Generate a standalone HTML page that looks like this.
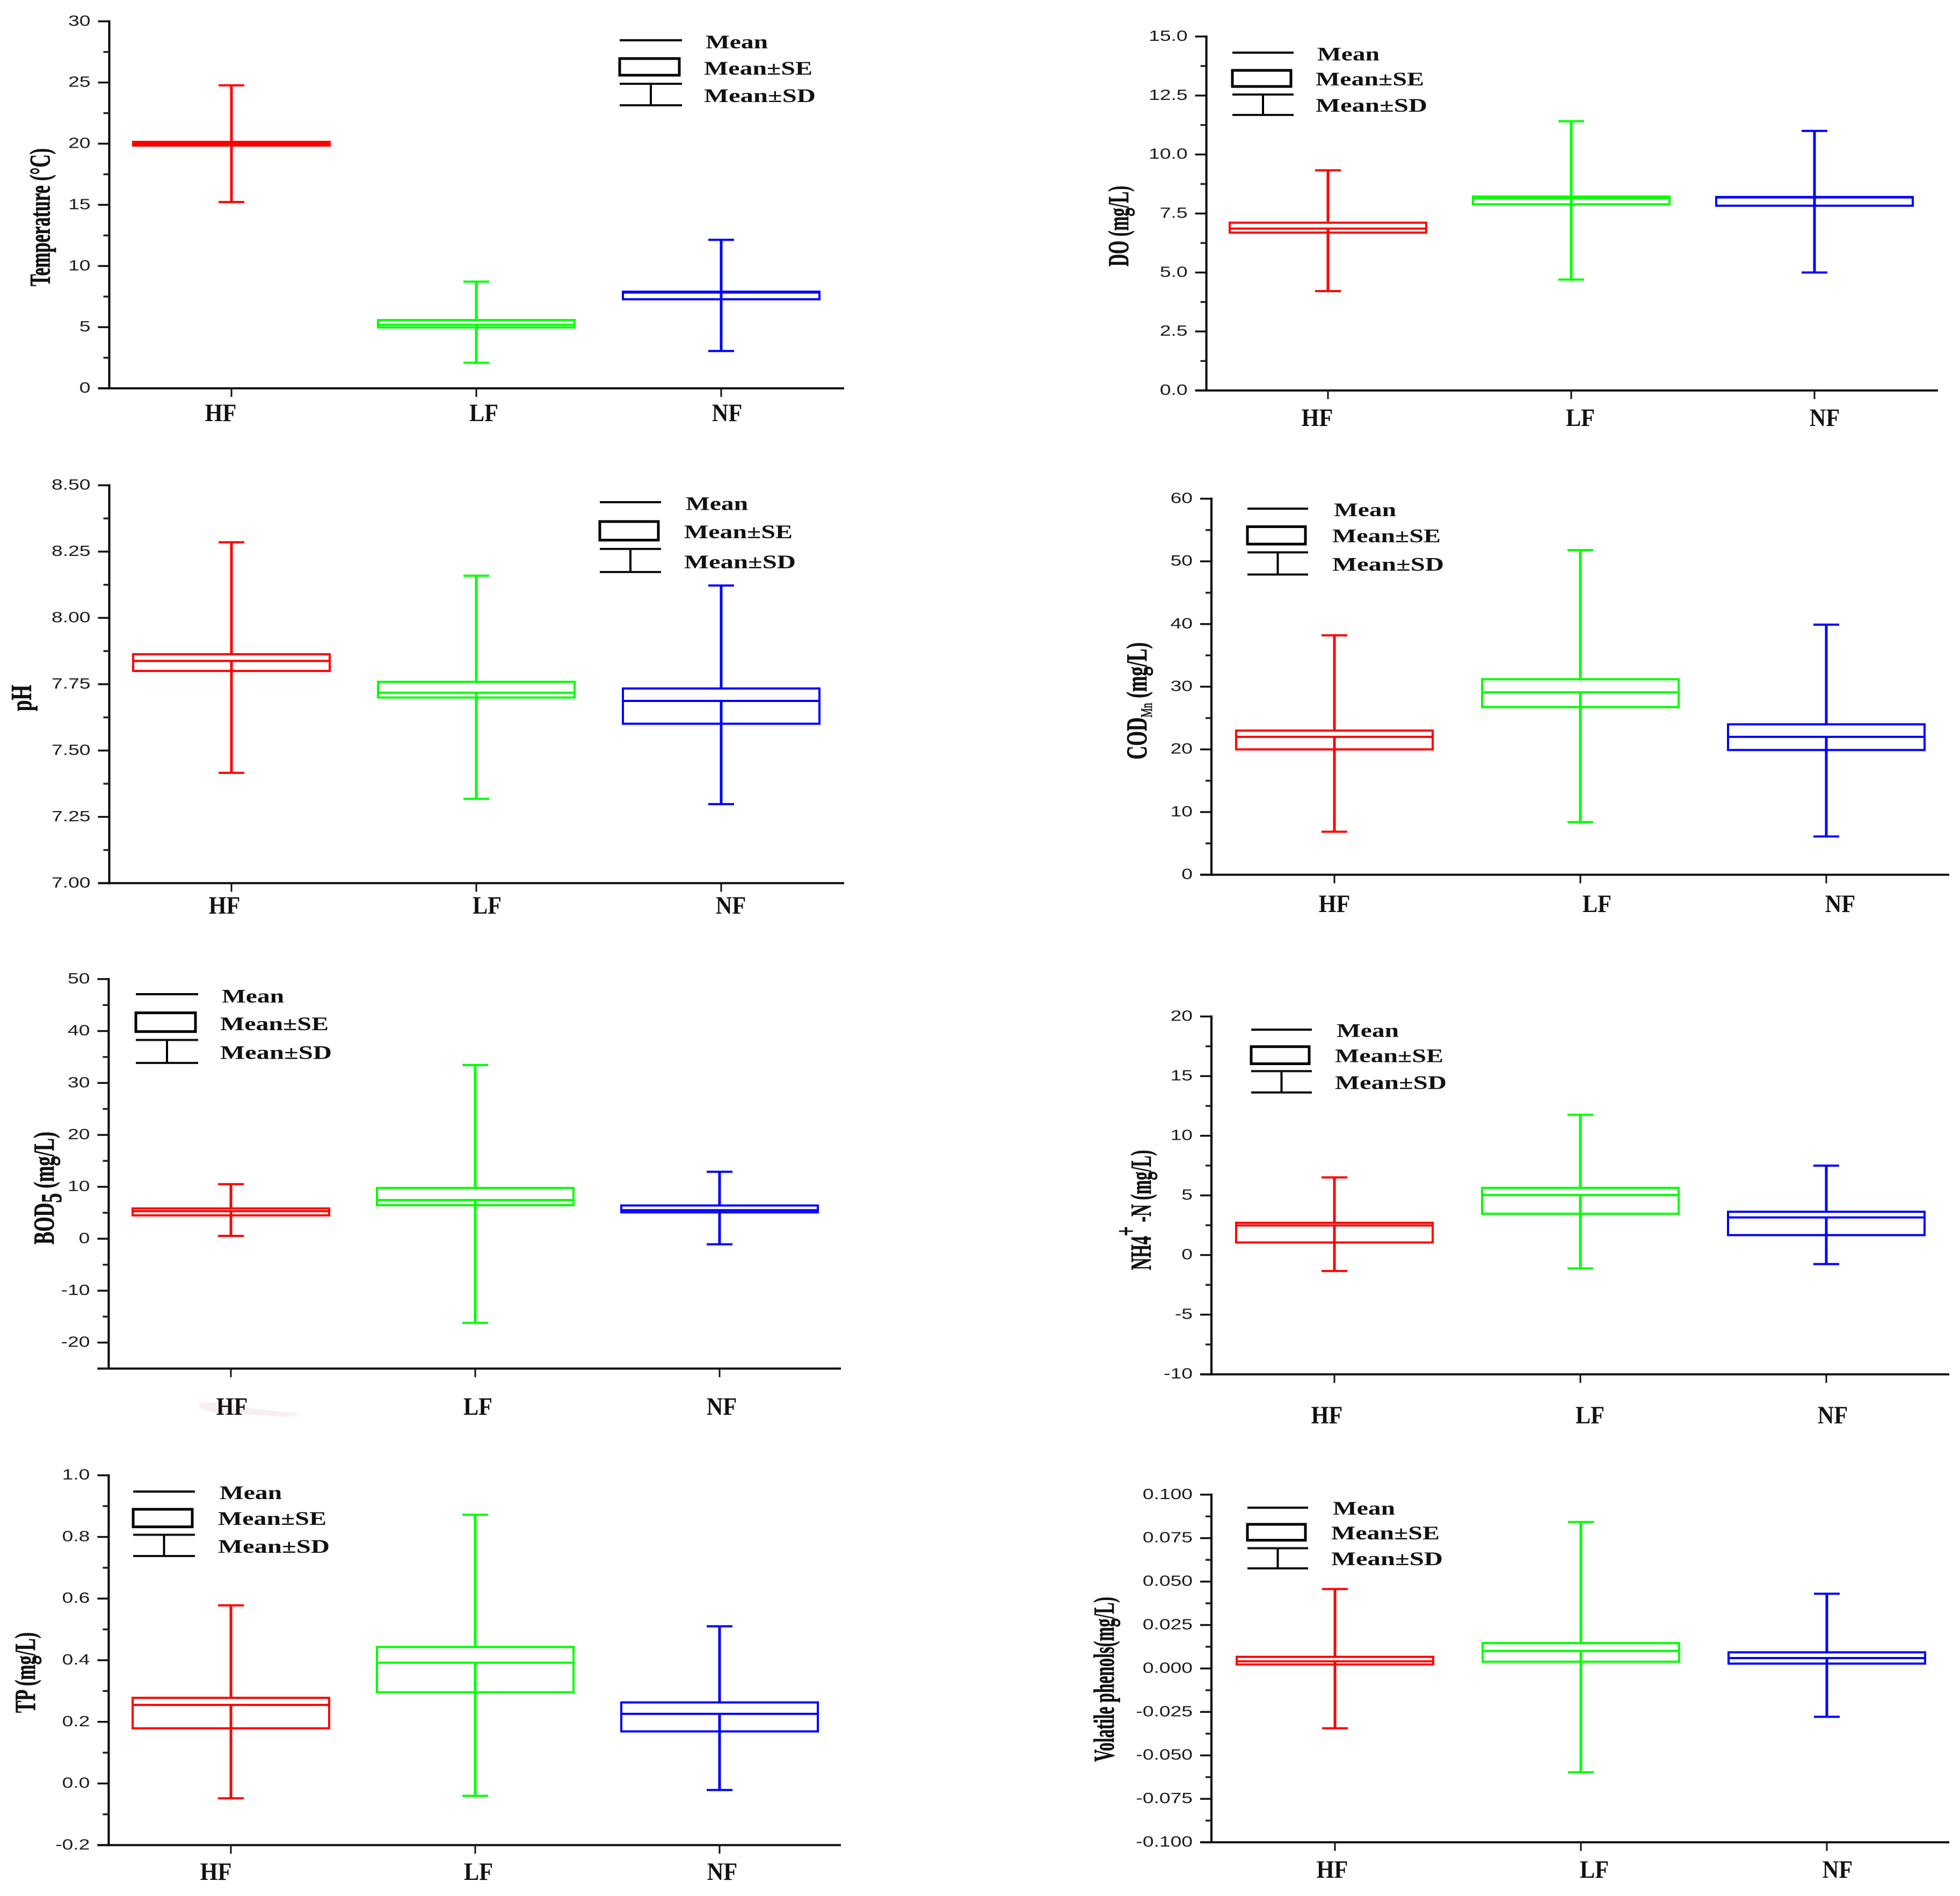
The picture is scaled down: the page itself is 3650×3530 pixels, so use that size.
<!DOCTYPE html>
<html lang="en">
<head>
<meta charset="utf-8">
<title>Water quality box charts</title>
<style>
html,body{margin:0;padding:0;background:#fff;}
body{width:3650px;height:3530px;overflow:hidden;}
svg{display:block;}
.tick-text{font-family:"Liberation Sans",sans-serif;font-size:28px;fill:#1c1c1c;text-anchor:end;}
.cat-text{font-family:"Liberation Serif",serif;font-weight:bold;font-size:47px;fill:#111;text-anchor:middle;}
.legend-text{font-family:"Liberation Serif",serif;font-weight:bold;font-size:36px;fill:#111;}
.title-text{font-family:"Liberation Serif",serif;font-weight:bold;font-size:54px;fill:#111;stroke:#111;stroke-width:0.8px;}
</style>
</head>
<body>
<svg id="figure" xmlns="http://www.w3.org/2000/svg" width="3650" height="3530" viewBox="0 0 3650 3530"></svg>
<script>
// ---------- data ----------
const categories = ['HF', 'LF', 'NF'];
const seriesColors = ['#ff0000', '#00ff00', '#0000ff'];
const legendLabels = ['Mean', 'Mean±SE', 'Mean±SD'];

const temperatureTicks = [0, 5, 10, 15, 20, 25, 30];
const temperatureTickLabels = ['0', '5', '10', '15', '20', '25', '30'];
const temperatureSdHigh = [24.77, 8.72, 12.14];
const temperatureSdLow = [15.23, 2.09, 3.05];
const temperatureSeHigh = [20.15, 5.58, 7.9];
const temperatureSeLow = [19.85, 4.98, 7.28];
const temperatureMean = [20.0, 5.2, 7.83];

const doTicks = [0, 2.5, 5, 7.5, 10, 12.5, 15];
const doTickLabels = ['0.0', '2.5', '5.0', '7.5', '10.0', '12.5', '15.0'];
const doSdHigh = [9.33, 11.41, 11.0];
const doSdLow = [4.21, 4.7, 5.0];
const doSeHigh = [7.11, 8.22, 8.2];
const doSeLow = [6.69, 7.89, 7.83];
const doMean = [6.86, 8.15, 8.18];

const phTicks = [7, 7.25, 7.5, 7.75, 8, 8.25, 8.5];
const phTickLabels = ['7.00', '7.25', '7.50', '7.75', '8.00', '8.25', '8.50'];
const phSdHigh = [8.285, 8.159, 8.122];
const phSdLow = [7.416, 7.318, 7.298];
const phSeHigh = [7.863, 7.759, 7.734];
const phSeLow = [7.8, 7.7, 7.601];
const phMean = [7.838, 7.718, 7.687];

const codTicks = [0, 10, 20, 30, 40, 50, 60];
const codTickLabels = ['0', '10', '20', '30', '40', '50', '60'];
const codSdHigh = [38.2, 51.8, 39.9];
const codSdLow = [6.86, 8.4, 6.1];
const codSeHigh = [23.0, 31.2, 24.0];
const codSeLow = [20.0, 26.75, 19.9];
const codMean = [22.0, 29.1, 22.0];

const bodTicks = [-20, -10, 0, 10, 20, 30, 40, 50];
const bodTickLabels = ['-20', '-10', '0', '10', '20', '30', '40', '50'];
const bodSdHigh = [10.5, 33.45, 12.9];
const bodSdLow = [0.55, -16.2, -1.07];
const bodSeHigh = [5.83, 9.78, 6.4];
const bodSeLow = [4.5, 6.47, 5.08];
const bodMean = [5.3, 7.45, 5.5];

const nh4Ticks = [-10, -5, 0, 5, 10, 15, 20];
const nh4TickLabels = ['-10', '-5', '0', '5', '10', '15', '20'];
const nh4SdHigh = [6.51, 11.76, 7.49];
const nh4SdLow = [-1.34, -1.12, -0.76];
const nh4SeHigh = [2.7, 5.63, 3.63];
const nh4SeLow = [1.05, 3.46, 1.67];
const nh4Mean = [2.48, 5.03, 3.15];

const tpTicks = [-0.2, 0, 0.2, 0.4, 0.6, 0.8, 1.0];
const tpTickLabels = ['-0.2', '0.0', '0.2', '0.4', '0.6', '0.8', '1.0'];
const tpSdHigh = [0.578, 0.872, 0.51];
const tpSdLow = [-0.048, -0.04, -0.021];
const tpSeHigh = [0.278, 0.443, 0.263];
const tpSeLow = [0.179, 0.296, 0.169];
const tpMean = [0.255, 0.392, 0.226];

const phenolTicks = [-0.1, -0.075, -0.05, -0.025, 0, 0.025, 0.05, 0.075, 0.1];
const phenolTickLabels = ['-0.100', '-0.075', '-0.050', '-0.025', '0.000', '0.025', '0.050', '0.075', '0.100'];
const phenolSdHigh = [0.0457, 0.0843, 0.043];
const phenolSdLow = [-0.0344, -0.0597, -0.0278];
const phenolSeHigh = [0.0067, 0.0146, 0.0093];
const phenolSeLow = [0.0023, 0.0039, 0.0028];
const phenolMean = [0.0041, 0.0101, 0.006];

// ---------- panel definitions ----------
const panels = [
  {key:'temperature', ticks:temperatureTicks, labels:temperatureTickLabels, hi:temperatureSdHigh, lo:temperatureSdLow, seHi:temperatureSeHigh, seLo:temperatureSeLow, mean:temperatureMean,
   min:0, max:30, ax:203.5, xEnd:1572, top:39.8, bot:723, c0:431, dx:456,
   catX:[411,901,1354], catY:784,
   title:[['Temperature (°C)']], titleX:92.7, titleBot:533, titleLen:257,
   lg:{x1:1154,x2:1270,lineY:75,boxTop:109,boxBot:140,capTop:156,capBot:196,textX:1311,base:[90,139,190]}},
  {key:'do', ticks:doTicks, labels:doTickLabels, hi:doSdHigh, lo:doSdLow, seHi:doSeHigh, seLo:doSeLow, mean:doMean,
   min:0, max:15, ax:2246.6, xEnd:3609, top:68, bot:727, c0:2473, dx:453,
   catX:[2453,2943,3398], catY:793,
   title:[['DO (mg/L)']], titleX:2101, titleBot:496, titleLen:150,
   lg:{x1:2295,x2:2409,lineY:98,boxTop:131,boxBot:161,capTop:176,capBot:214,textX:2450,base:[112.4,159,208]}},
  {key:'ph', ticks:phTicks, labels:phTickLabels, hi:phSdHigh, lo:phSdLow, seHi:phSeHigh, seLo:phSeLow, mean:phMean,
   min:7, max:8.5, ax:203.5, xEnd:1572, top:903.5, bot:1644.3, c0:431, dx:456,
   catX:[418,907,1361], catY:1701,
   title:[['pH']], titleX:58, titleBot:1324, titleLen:49,
   lg:{x1:1117,x2:1231,lineY:935,boxTop:971,boxBot:1005.6,capTop:1022,capBot:1065,textX:1274,base:[949.6,1002,1058]}},
  {key:'cod', ticks:codTicks, labels:codTickLabels, hi:codSdHigh, lo:codSdLow, seHi:codSeHigh, seLo:codSeLow, mean:codMean,
   min:0, max:60, ax:2256, xEnd:3630, top:928.5, bot:1628.6, c0:2485, dx:458,
   catX:[2485,2974,3427], catY:1698,
   title:[['COD'],['Mn',30,10,'normal'],[' (mg/L)',54,-10]], titleX:2135, titleBot:1414, titleLen:218,
   lg:{x1:2323,x2:2436,lineY:947,boxTop:980.6,boxBot:1013,capTop:1028.4,capBot:1069.6,textX:2481,base:[960.8,1009.7,1062.4]}},
  {key:'bod', ticks:bodTicks, labels:bodTickLabels, hi:bodSdHigh, lo:bodSdLow, seHi:bodSeHigh, seLo:bodSeLow, mean:bodMean,
   min:-25, max:50, ax:202.4, xEnd:1566, top:1822.9, bot:2548, c0:430, dx:455,
   catX:[432,890,1344], catY:2634,
   title:[['BOD'],['5',54,14],[' (mg/L)',54,-14]], titleX:100, titleBot:2317, titleLen:210,
   lg:{x1:253,x2:369,lineY:1851,boxTop:1885.7,boxBot:1920.6,capTop:1936.3,capBot:1979,textX:410,base:[1866.6,1917.8,1971.7]}},
  {key:'nh4', ticks:nh4Ticks, labels:nh4TickLabels, hi:nh4SdHigh, lo:nh4SdLow, seHi:nh4SeHigh, seLo:nh4SeLow, mean:nh4Mean,
   min:-10, max:20, ax:2256, xEnd:3630, top:1892.5, bot:2558.7, c0:2485, dx:458,
   catX:[2471,2961,3413], catY:2650,
   title:[['NH4'],['+',54,-28],[' -N (mg/L)',54,28]], titleX:2143, titleBot:2364.5, titleLen:223.5,
   lg:{x1:2330,x2:2443,lineY:1917,boxTop:1948.7,boxBot:1980.5,capTop:1994.3,capBot:2034,textX:2486,base:[1930.6,1977.3,2027.7]}},
  {key:'tp', ticks:tpTicks, labels:tpTickLabels, hi:tpSdHigh, lo:tpSdLow, seHi:tpSeHigh, seLo:tpSeLow, mean:tpMean,
   min:-0.2, max:1.0, ax:202.4, xEnd:1566, top:2746.7, bot:3435.3, c0:430, dx:455,
   catX:[402,891,1345], catY:3500,
   title:[['TP (mg/L)']], titleX:65, titleBot:3189, titleLen:150,
   lg:{x1:248,x2:363,lineY:2777,boxTop:2810,boxBot:2842.7,capTop:2857.5,capBot:2897,textX:406,base:[2791,2839,2891]}},
  {key:'phenol', ticks:phenolTicks, labels:phenolTickLabels, hi:phenolSdHigh, lo:phenolSdLow, seHi:phenolSeHigh, seLo:phenolSeLow, mean:phenolMean,
   min:-0.1, max:0.1, ax:2256, xEnd:3630, top:2782.8, bot:3430, c0:2486, dx:458,
   catX:[2481,2969,3422], catY:3496,
   title:[['Volatile phenols(mg/L)']], titleX:2074, titleBot:3280, titleLen:307,
   lg:{x1:2323,x2:2436,lineY:2807,boxTop:2838,boxBot:2867.6,capTop:2882.5,capBot:2920,textX:2479,base:[2820,2866,2914]}}
];

// ---------- drawing ----------
const NS = 'http://www.w3.org/2000/svg';
const figure = document.getElementById('figure');
const BOX_HALF = 183;
const CAP_HALF = 24;

function make(parent, tag, attrs) {
  const el = document.createElementNS(NS, tag);
  for (const k in attrs) el.setAttribute(k, attrs[k]);
  parent.appendChild(el);
  return el;
}
function seg(parent, x1, y1, x2, y2, color, w) {
  return make(parent, 'line', {x1:x1, y1:y1, x2:x2, y2:y2, stroke:color, 'stroke-width':w});
}
function stretchedText(parent, cls, str, x, y, targetWidth, scaleX) {
  const t = make(parent, 'text', {class:cls});
  t.textContent = str;
  let k = scaleX;
  if (targetWidth) k = targetWidth / t.getComputedTextLength();
  t.setAttribute('transform', 'translate(' + x + ' ' + y + ') scale(' + k + ' 1)');
  return t;
}

panels.forEach(function (p) {
  const yOf = function (v) { return p.bot - (v - p.min) / (p.max - p.min) * (p.bot - p.top); };
  const xOf = function (i) { return p.c0 + i * p.dx; };

  const g = make(figure, 'g', {});
  
  

  // axes
  const yAxis = seg(g, p.ax, p.top - 2, p.ax, p.bot + 2, '#000', 4);
  
  
  const xAxis = seg(g, p.ax - 21, p.bot, p.xEnd, p.bot, '#111', 4);
  
  

  // y ticks
  p.ticks.forEach(function (v, i) {
    const y = yOf(v);
    const tick = seg(g, p.ax - 21, y, p.ax, y, '#111', 3.5);
    
    
    const lab = stretchedText(g, 'tick-text', p.labels[i], p.ax - 35, y + 8, 0, 1.33);
    
    
  });
  const step = p.ticks[1] - p.ticks[0];
  for (let n = -1; n < p.ticks.length; n++) {
    const v = p.ticks[0] + (n + 0.5) * step;
    if (v < p.min || v > p.max) continue;
    const minor = seg(g, p.ax - 11, yOf(v), p.ax, yOf(v), '#222', 3.5);
    
    
  }

  // categories and box marks
  categories.forEach(function (cat, i) {
    const x = xOf(i);
    const color = seriesColors[i];
    const tick = seg(g, x, p.bot, x, p.bot + 16, '#111', 3);
    
    

    const catLabel = stretchedText(g, 'cat-text', cat, p.catX[i], p.catY, 0, 0.9);
    
    

    const box = make(g, 'g', {});
    
    

    const upper = seg(box, x, yOf(p.hi[i]), x, yOf(p.seHi[i]), color, 5);
    
    
    const lower = seg(box, x, yOf(p.mean[i]), x, yOf(p.lo[i]), color, 5);
    
    
    const capHi = seg(box, x - CAP_HALF, yOf(p.hi[i]), x + CAP_HALF, yOf(p.hi[i]), color, 4);
    
    
    const capLo = seg(box, x - CAP_HALF, yOf(p.lo[i]), x + CAP_HALF, yOf(p.lo[i]), color, 4);
    
    
    const rect = make(box, 'rect', {x:x - BOX_HALF, y:yOf(p.seHi[i]), width:BOX_HALF * 2, height:yOf(p.seLo[i]) - yOf(p.seHi[i]), fill:'none', stroke:color, 'stroke-width':4});
    
    
    const meanLine = seg(box, x - BOX_HALF, yOf(p.mean[i]), x + BOX_HALF, yOf(p.mean[i]), color, 4);
    
    
  });

  // y-axis title
  const title = make(g, 'text', {class:'title-text'});
  p.title.forEach(function (part) {
    const ts = make(title, 'tspan', {});
    ts.textContent = part[0];
    if (part[1]) ts.setAttribute('font-size', part[1]);
    if (part[2]) ts.setAttribute('dy', part[2]);
    if (part[3]) ts.setAttribute('font-weight', part[3]);
  });
  const kT = p.titleLen / title.getComputedTextLength();
  title.setAttribute('transform', 'translate(' + p.titleX + ' ' + p.titleBot + ') rotate(-90) scale(' + kT + ' 1)');
  
  

  // legend
  const L = p.lg;
  const legend = make(g, 'g', {});
  
  
  const lgMean = seg(legend, L.x1, L.lineY, L.x2, L.lineY, '#000', 4);
  
  
  const lgBox = make(legend, 'rect', {x:L.x1, y:L.boxTop, width:L.x2 - L.x1 - 5, height:L.boxBot - L.boxTop, fill:'none', stroke:'#000', 'stroke-width':5});
  
  
  const mid = (L.x1 + L.x2) / 2;
  const lgStem = seg(legend, mid, L.capTop, mid, L.capBot, '#000', 4);
  
  
  const lgCapT = seg(legend, L.x1, L.capTop, L.x2, L.capTop, '#111', 4);
  
  
  const lgCapB = seg(legend, L.x1, L.capBot, L.x2, L.capBot, '#111', 4);
  
  
  const widths = [116, 202, 208];
  legendLabels.forEach(function (txt, i) {
    const x = L.textX + (i === 0 ? 3 : 0);
    const t = stretchedText(legend, 'legend-text', txt, x, L.base[i], widths[i], 1);
    
    
  });
});

// faint pink scan smear under the BOD HF label
const smear = make(figure, 'path', {d:'M369 2612 L420 2610 L470 2622 L560 2632 L540 2638 L470 2634 L395 2630 L372 2622 Z', fill:'#f9eef0'});


figure.insertBefore(smear, figure.firstChild);
</script>
</body>
</html>
